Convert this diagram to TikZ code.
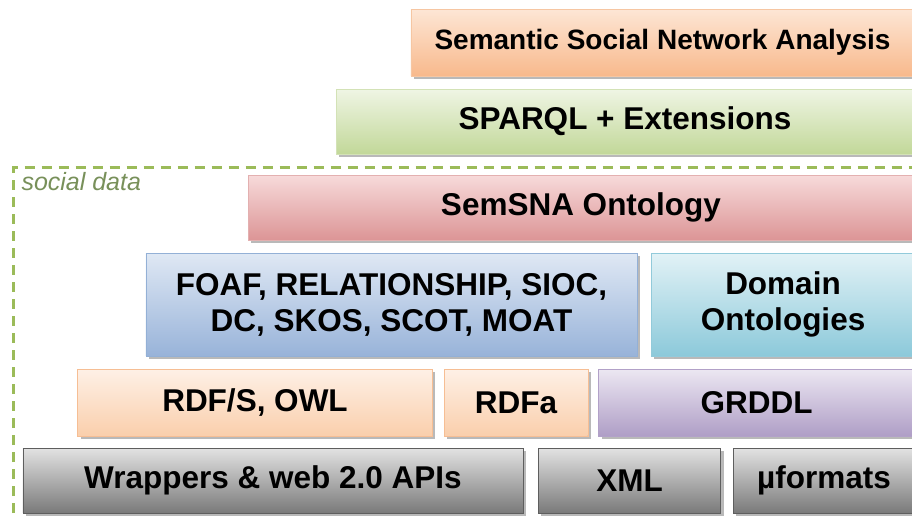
\documentclass[tikz,border=0pt]{standalone}
\usepackage{fontspec}
\setmainfont{Liberation Sans}
\usepackage{tikz}
\usetikzlibrary{shadows}

\definecolor{ssnatop}{HTML}{FDE6D5}
\definecolor{ssnabot}{HTML}{F8B98C}
\definecolor{ssnaline}{HTML}{F6C6A2}
\definecolor{sparqltop}{HTML}{EFF5E4}
\definecolor{sparqlbot}{HTML}{C2D899}
\definecolor{sparqlline}{HTML}{D3E2B6}
\definecolor{semtop}{HTML}{F7DADA}
\definecolor{sembot}{HTML}{DC9596}
\definecolor{semline}{HTML}{E3B0B0}
\definecolor{foaftop}{HTML}{DFE8F4}
\definecolor{foafbot}{HTML}{98B3D9}
\definecolor{foafline}{HTML}{93B0D6}
\definecolor{domtop}{HTML}{E2F2F6}
\definecolor{dombot}{HTML}{8CC9DA}
\definecolor{domline}{HTML}{92CADA}
\definecolor{rdftop}{HTML}{FEF0E6}
\definecolor{rdfbot}{HTML}{FACFAC}
\definecolor{rdfline}{HTML}{F6BE94}
\definecolor{grddltop}{HTML}{ECE7F2}
\definecolor{grddlbot}{HTML}{AF9EC6}
\definecolor{grddlline}{HTML}{B2A1C8}
\definecolor{syntop}{HTML}{E2E2E2}
\definecolor{synbot}{HTML}{7A7A7A}
\definecolor{synline}{HTML}{5E5E5E}
\definecolor{socialgreen}{HTML}{9BBB59}
\definecolor{socialtext}{HTML}{78905A}

\begin{document}
\begin{tikzpicture}
  [x=1bp,y=-1bp,
   layer/.style={rectangle,inner sep=0pt,align=center,text=black,
     font=\bfseries\fontsize{31.5bp}{36bp}\selectfont,
     drop shadow={shadow xshift=3bp,shadow yshift=-3bp,fill=black!50,opacity=.55}},
   ssnabox/.style={layer,draw=ssnaline,top color=ssnatop,bottom color=ssnabot},
   sparqlbox/.style={layer,draw=sparqlline,top color=sparqltop,bottom color=sparqlbot},
   sembox/.style={layer,draw=semline,top color=semtop,bottom color=sembot},
   vocabbox/.style={layer,draw=foafline,top color=foaftop,bottom color=foafbot},
   dombox/.style={layer,draw=domline,top color=domtop,bottom color=dombot},
   rdfbox/.style={layer,draw=rdfline,top color=rdftop,bottom color=rdfbot},
   grddlbox/.style={layer,draw=grddlline,top color=grddltop,bottom color=grddlbot},
   synbox/.style={layer,draw=synline,top color=syntop,bottom color=synbot},
   socialframe/.style={draw=socialgreen,line width=3bp,dash pattern=on 10bp off 7bp}]
  \useasboundingbox (0,0) rectangle (912,519);
  \clip (0,0) rectangle (912,519);
  \draw[socialframe] (13,530) -- (13,167.5) -- (920,167.5);
  \node[anchor=base west,text=socialtext,font=\itshape\fontsize{25bp}{30bp}\selectfont] (sd) at (18,191) {social data};
  \node[ssnabox,minimum width=505,minimum height=67,font=\bfseries\fontsize{28bp}{32bp}\selectfont] (ssna) at (662.5,42.5) {Semantic Social Network Analysis};
  \node[sparqlbox,minimum width=580,minimum height=65] (sparql) at (625,121.5) {SPARQL + Extensions};
  \node[sembox,minimum width=668,minimum height=65] (sem) at (581,207.5) {SemSNA Ontology};
  \node[vocabbox,minimum width=493,minimum height=103] (foaf) at (391.5,304.5) {FOAF, RELATIONSHIP, SIOC,\\DC, SKOS, SCOT, MOAT};
  \node[dombox,minimum width=264,minimum height=103] (dom) at (783,304.5) {Domain\\Ontologies};
  \node[rdfbox,minimum width=356,minimum height=67] (rdfs) at (255,402.5) {RDF/S, OWL};
  \node[rdfbox,minimum width=144,minimum height=67] (rdfa) at (516,402.5) {RDFa};
  \node[grddlbox,minimum width=317,minimum height=67] (grddl) at (756.5,402.5) {GRDDL};
  \node[synbox,minimum width=502,minimum height=65] (wrap) at (273,480.5) {Wrappers \& web 2.0 APIs};
  \node[synbox,minimum width=183,minimum height=65] (xml) at (629.5,480.5) {XML};
  \node[synbox,minimum width=182,minimum height=65] (mf) at (824,480.5) {µformats};
\end{tikzpicture}
\end{document}
